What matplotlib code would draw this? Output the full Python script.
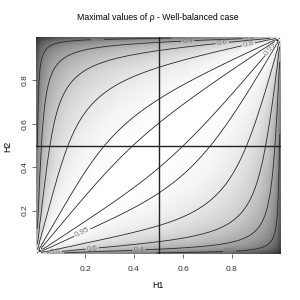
import math
import numpy as np
import matplotlib
matplotlib.use("Agg")
import matplotlib.pyplot as plt
from matplotlib.colors import PowerNorm

# ---- data ----
h_grid = np.linspace(0.005, 0.995, 100)          # Hurst exponents H1, H2 (cell centres)
label_levels = [0.2, 0.4, 0.6, 0.8, 0.95, 0.99]
label_positions = [(0.25, 0.995), (0.62, 0.986), (0.87, 0.995), (0.76, 0.97),
                   (0.87, 0.95), (0.955, 0.95),
                   (0.19, 0.097), (0.078, 0.014), (0.23, 0.023), (0.42, 0.014),
                   (0.79, 0.005)]
tick_values = [0.2, 0.4, 0.6, 0.8]
tick_labels = ["0.2", "0.4", "0.6", "0.8"]
ref_lines = [0.5]

def rho_max(h1, h2):
    num = math.gamma(2*h1 + 1) * math.gamma(2*h2 + 1) * math.sin(math.pi*h1) * math.sin(math.pi*h2)
    den = math.gamma(h1 + h2 + 1) * math.sin(math.pi*(h1 + h2)/2)
    return math.sqrt(num) / den

H1, H2 = np.meshgrid(h_grid, h_grid)
Z = np.vectorize(rho_max)(H1, H2)
Z = np.clip(Z, 0, 1)

plt.rcParams['font.family'] = ['Liberation Sans', 'DejaVu Sans']
fig = plt.figure(figsize=(3, 3), dpi=100)
ax = fig.add_axes([36/300, 1 - 254/300, 245/300, 217/300])

ax.imshow(Z, origin='lower', extent=[0, 1, 0, 1], cmap='gray',
          norm=PowerNorm(gamma=1/2.2, vmin=0, vmax=1), aspect='auto',
          interpolation='bilinear')
cs = ax.contour(H1, H2, Z, levels=label_levels, colors='#2a2a2a', linewidths=0.6)
ax.clabel(cs, inline=True, fontsize=5.8, colors='#7a7a7a',
          fmt=lambda v: f"{v:g}", manual=label_positions, inline_spacing=1)

for v in ref_lines:
    ax.axvline(v, color='#222222', lw=1.0)
    ax.axhline(v, color='#222222', lw=1.0)

ax.set_xlim(0, 1)
ax.set_ylim(0, 1)
for s in ax.spines.values():
    s.set_visible(False)
ax.set_xticks(tick_values)
ax.set_xticklabels(tick_labels)
ax.set_yticks(tick_values)
ax.set_yticklabels(tick_labels, rotation=90, va='center')
ax.tick_params(length=3, width=0.5, labelsize=6, colors='#333333')
ax.tick_params(axis='x', pad=5.5)
ax.tick_params(axis='y', pad=2.5)

fig.text(158/300, 1 - 17/300, "Maximal values of \u03c1 - Well-balanced case",
         ha='center', va='center', fontsize=6.3)
fig.text(158/300, 1 - 285/300, "H1", ha='center', va='center', fontsize=6.3)
fig.text(8/300, 1 - 146/300, "H2", ha='center', va='center', fontsize=6.3, rotation=90)

fig.savefig("out.png", dpi=100)
